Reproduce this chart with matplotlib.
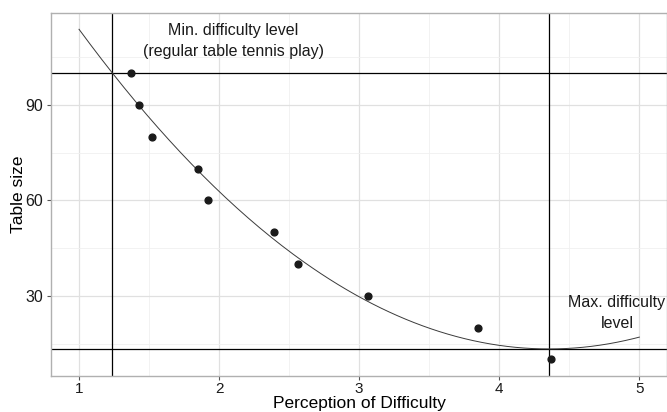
import numpy as np
import matplotlib
matplotlib.use("Agg")
import matplotlib.pyplot as plt

plt.rcParams['font.family'] = ['Liberation Sans', 'DejaVu Sans']

# perception of difficulty vs table size
perception = [1.37, 1.43, 1.52, 1.85, 1.92, 2.39, 2.56, 3.06, 3.85, 4.37]
table_size = [100, 90, 80, 70, 60, 50, 40, 30, 20, 10]

x_ticks = [1, 2, 3, 4, 5]
y_ticks = [30, 60, 90]
min_level = 100  # regular table tennis play

# quadratic fit, like geom_smooth(y ~ poly(x, 2))
coef = np.polyfit(perception, table_size, 2)
xs = np.linspace(1, 5, 200)
ys = np.polyval(coef, xs)

# reference lines from the fit: vertex and where the fit reaches 100
x_vertex = -coef[1] / (2 * coef[0])
y_vertex = np.polyval(coef, x_vertex)
roots = np.roots([coef[0], coef[1], coef[2] - min_level])
x_min_level = roots.real.min()

fig = plt.figure(figsize=(6.67, 4.12), dpi=100)
ax = fig.add_axes((0.0765, 0.0874, 0.924, 0.882))

ax.set_xlim(0.8, 5.2)
ax.set_ylim(4.8, 119)

# grid like theme_bw
ax.set_xticks(x_ticks)
ax.set_yticks(y_ticks)
ax.set_xticks([1.5, 2.5, 3.5, 4.5], minor=True)
ax.set_yticks([15, 45, 75, 105], minor=True)
ax.grid(which='major', color='#e0e0e0', linewidth=0.9)
ax.grid(which='minor', color='#f0f0f0', linewidth=0.6)
ax.set_axisbelow(True)
ax.tick_params(which='minor', length=0)
ax.tick_params(which='major', length=3, width=0.8, color='#555555',
               labelsize=11.5, labelcolor='#1a1a1a', pad=2.5)
ax.tick_params(axis='x', which='major', labelsize=11, pad=1.5)
for s in ax.spines.values():
    s.set_color('#b0b0b0')
    s.set_linewidth(1.0)

ax.axhline(min_level, color='black', linewidth=0.9)
ax.axhline(y_vertex, color='black', linewidth=0.9)
ax.axvline(x_min_level, color='black', linewidth=0.9)
ax.axvline(x_vertex, color='black', linewidth=0.9)

ax.plot(xs, ys, color='#3a3a3a', linewidth=0.7)
ax.scatter(perception, table_size, s=24, color='#1a1a1a', zorder=5)

ax.text(2.1, 110, "Min. difficulty level\n(regular table tennis play)",
        ha='center', va='center', fontsize=11.5, color='#1a1a1a', linespacing=1.5)
ax.text(4.84, 24.7, "Max. difficulty\nlevel", ha='center', va='center',
        fontsize=11.5, color='#1a1a1a', linespacing=1.5)

ax.set_xlabel("Perception of Difficulty", fontsize=12.5, labelpad=0)
ax.set_ylabel("Table size", fontsize=12.5, labelpad=0)

fig.savefig("out.png", dpi=100)
